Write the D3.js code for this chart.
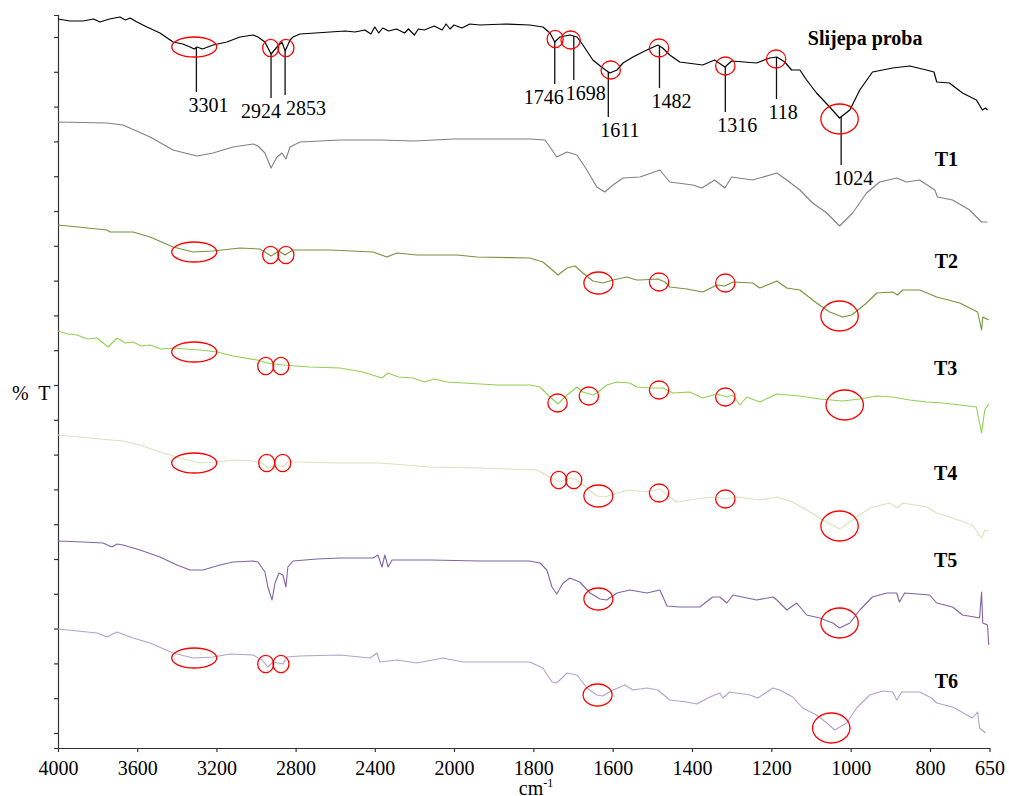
<!DOCTYPE html>
<html>
<head>
<meta charset="utf-8">
<script src="https://cdn.jsdelivr.net/npm/d3@7/dist/d3.min.js"></script>
<style>
  body { margin: 0; background: #fff; }
  text { font-family: "Liberation Serif", "Times New Roman", serif; }
</style>
</head>
<body>
<div id="chart"></div>
<script>

// spectra: [wavenumber cm-1, %T (arbitrary, stacked)]
var seriesNames = ["Slijepa proba", "T1", "T2", "T3", "T4", "T5", "T6"];

var xTickValues = [4000, 3600, 3200, 2800, 2400, 2000, 1800, 1600, 1400, 1200, 1000, 800, 650];

var slijepa = [[4000,72.9],[3940,72.7],[3874,72.7],[3820,72.9],[3788,72.6],[3740,72.9],[3687,73.1],[3660,72.8],[3636,73.0],[3601,72.6],
  [3551,72.1],[3485,71.5],[3419,70.6],[3370,70.4],[3333,70.1],[3312,69.9],[3298,70.1],[3270,69.9],[3217,70.3],[3147,70.6],
  [3081,71.1],[3015,71.3],[2990,71.1],[2955,70.6],[2924,69.4],[2894,70.1],[2869,70.6],[2853,69.7],[2828,70.8],[2813,71.1],
  [2778,71.4],[2700,71.5],[2626,71.6],[2550,71.7],[2500,71.6],[2450,71.8],[2420,71.4],[2400,72.1],[2380,71.5],[2360,72.0],
  [2330,71.7],[2290,71.9],[2250,71.5],[2230,71.9],[2200,71.3],[2180,71.9],[2150,71.8],[2100,72.2],[2060,71.8],[2040,72.4],
  [2020,71.9],[2000,72.3],[1980,72.0],[1960,72.4],[1935,72.3],[1870,72.4],[1809,72.3],[1776,72.1],[1758,71.5],[1746,70.6],
  [1733,71.1],[1708,71.3],[1690,71.1],[1675,70.3],[1650,68.8],[1625,68.0],[1607,67.5],[1589,67.8],[1574,68.5],[1549,69.1],
  [1514,69.8],[1486,70.3],[1474,70.0],[1456,69.3],[1431,68.6],[1373,68.3],[1343,68.8],[1317,68.1],[1300,68.7],[1237,68.5],
  [1204,69.0],[1186,69.1],[1166,68.6],[1149,67.8],[1128,67.8],[1111,66.8],[1086,65.5],[1053,64.1],[1028,63.0],[1002,63.8],
  [977,65.8],[945,67.6],[894,68.0],[851,68.2],[809,67.8],[790,67.6],[783,66.6],[751,66.5],[718,65.5],[683,64.8],
  [668,63.8],[660,64.0],[655,63.8]];

var t1 = [[4000,62.6],[3753,62.5],[3672,62.3],[3535,61.1],[3419,59.8],[3298,59.2],[3217,59.5],[3116,60.1],[3015,60.4],[2990,60.2],
  [2955,59.5],[2924,58.0],[2894,59.1],[2869,59.5],[2849,58.9],[2828,60.1],[2778,60.6],[2576,60.8],[2374,60.8],[2200,60.7],
  [2000,60.9],[1809,60.9],[1771,60.8],[1758,60.1],[1741,59.1],[1715,59.6],[1690,59.3],[1665,57.8],[1640,56.1],[1620,55.6],
  [1599,56.3],[1574,57.0],[1531,57.1],[1481,57.8],[1456,56.6],[1398,56.3],[1375,56.0],[1343,56.8],[1317,56.0],[1300,57.1],
  [1247,56.8],[1186,57.5],[1161,56.8],[1128,55.8],[1096,54.5],[1060,53.5],[1028,52.2],[995,53.5],[960,55.5],[927,56.6],
  [884,57.0],[859,56.6],[826,56.8],[788,55.8],[781,55.1],[743,54.8],[700,53.8],[670,52.6],[655,52.6]];

var t2 = [[4000,52.3],[3900,52.1],[3753,51.8],[3737,51.6],[3621,51.6],[3535,51.1],[3419,50.1],[3318,49.6],[3217,49.7],[3081,50.0],
  [2980,49.9],[2924,49.2],[2884,49.7],[2854,49.3],[2813,49.8],[2626,49.8],[2409,49.6],[2339,49.1],[2288,49.5],[2187,49.3],
  [1993,49.3],[1942,49.1],[1809,49.0],[1776,48.6],[1758,48.0],[1738,47.3],[1715,48.0],[1695,48.2],[1675,47.5],[1650,46.7],
  [1625,46.5],[1599,46.8],[1564,47.1],[1540,46.8],[1531,46.8],[1486,46.9],[1468,46.6],[1456,46.1],[1413,45.9],[1373,45.6],
  [1337,46.3],[1317,46.2],[1297,46.6],[1247,46.5],[1229,46.0],[1186,46.7],[1161,46.0],[1128,45.8],[1086,44.5],[1053,43.6],
  [1020,43.1],[997,43.3],[960,44.5],[934,45.5],[894,45.6],[882,45.3],[869,45.8],[826,45.8],[783,45.1],[725,44.5],
  [680,43.6],[670,41.8],[667,43.1],[652,42.8]];

var t3 = [[4000,41.7],[3950,41.4],[3904,41.3],[3850,40.9],[3803,41.0],[3747,40.1],[3702,41.0],[3660,40.5],[3621,40.6],[3580,40.2],
  [3535,40.3],[3480,39.9],[3419,40.0],[3283,39.8],[3197,39.6],[3116,39.2],[2995,38.8],[2944,38.5],[2864,38.3],[2727,38.1],
  [2576,38.0],[2460,37.6],[2364,37.0],[2333,37.5],[2280,37.1],[2207,37.0],[2150,36.6],[2100,36.9],[2035,36.6],[1892,36.3],
  [1809,36.3],[1783,36.1],[1758,35.1],[1738,34.4],[1715,35.3],[1690,36.1],[1675,35.6],[1650,35.3],[1640,35.5],[1615,36.3],
  [1589,36.6],[1557,36.5],[1539,36.1],[1506,36.0],[1474,36.0],[1448,35.5],[1406,35.6],[1373,35.0],[1337,35.4],[1312,35.1],
  [1297,35.3],[1279,34.3],[1262,35.1],[1229,34.6],[1186,35.4],[1128,35.2],[1078,34.9],[1020,34.7],[977,34.9],[934,35.2],
  [894,35.1],[851,34.8],[808,34.6],[768,34.5],[725,34.3],[683,34.1],[670,31.5],[662,33.8],[652,34.4]];

var t4 = [[4000,31.3],[3788,30.9],[3672,30.7],[3586,30.3],[3485,29.6],[3384,29.0],[3283,28.5],[3197,28.6],[3116,28.8],[3015,28.7],
  [2970,28.5],[2940,28.0],[2894,28.3],[2864,28.1],[2839,28.6],[2778,28.6],[2576,28.5],[2374,28.5],[2121,28.1],[1935,28.0],
  [1791,27.8],[1758,27.1],[1733,26.6],[1708,27.0],[1688,26.8],[1665,26.0],[1640,25.2],[1620,25.1],[1589,25.5],[1557,25.8],
  [1514,25.6],[1481,25.9],[1456,25.1],[1438,24.6],[1373,25.0],[1337,25.1],[1317,24.9],[1287,25.1],[1229,24.8],[1186,25.1],
  [1146,24.6],[1111,23.8],[1070,22.8],[1028,21.9],[995,22.8],[952,24.0],[902,24.5],[882,24.0],[869,24.5],[808,24.1],
  [783,23.5],[743,23.0],[693,22.3],[670,21.0],[662,21.8],[652,21.7]];

var t5 = [[4000,20.7],[3874,20.6],[3773,20.5],[3727,20.1],[3702,20.4],[3672,20.3],[3586,19.8],[3485,19.1],[3399,18.3],[3333,17.8],
  [3268,17.8],[3182,18.3],[3116,18.6],[3015,18.7],[2990,18.6],[2955,17.6],[2940,16.1],[2919,14.8],[2904,16.5],[2884,17.5],
  [2864,17.3],[2849,16.1],[2839,18.1],[2813,18.7],[2692,18.9],[2576,19.0],[2409,19.0],[2384,19.3],[2364,18.1],[2349,19.3],
  [2333,18.1],[2313,18.8],[2273,18.8],[2121,18.8],[1935,18.7],[1809,18.7],[1783,18.5],[1766,17.8],[1753,16.1],[1741,15.4],
  [1725,16.5],[1708,17.0],[1683,16.6],[1657,15.5],[1632,14.9],[1615,14.8],[1589,15.5],[1557,15.8],[1514,15.5],[1481,15.8],
  [1463,14.2],[1431,14.1],[1380,14.1],[1348,15.1],[1330,15.1],[1312,14.5],[1297,15.3],[1237,14.8],[1196,15.1],[1186,14.8],
  [1161,13.8],[1136,14.5],[1111,13.3],[1078,13.0],[1045,12.5],[1028,12.0],[1002,12.5],[977,13.8],[945,15.1],[909,15.5],
  [884,15.5],[877,14.6],[864,15.5],[801,15.3],[783,14.5],[743,14.1],[718,13.3],[688,13.1],[675,13.0],[670,15.6],
  [667,12.5],[655,12.3],[652,10.3]];

var t6 = [[4000,11.9],[3803,11.5],[3753,11.1],[3702,11.6],[3621,11.0],[3535,10.5],[3419,9.5],[3318,9.0],[3217,9.1],[3131,9.4],
  [3015,9.3],[2970,8.8],[2940,8.1],[2914,8.6],[2864,8.4],[2844,9.1],[2778,9.2],[2576,9.3],[2424,9.0],[2389,9.5],
  [2374,8.6],[2288,8.8],[2187,8.5],[2056,9.0],[1977,8.6],[1892,8.6],[1809,8.6],[1776,8.0],[1753,6.6],[1741,6.5],
  [1715,7.5],[1690,7.3],[1665,6.0],[1640,5.3],[1625,5.2],[1599,5.8],[1569,6.3],[1549,5.8],[1514,6.0],[1486,5.8],
  [1456,4.8],[1413,4.6],[1388,4.4],[1355,5.1],[1330,5.5],[1322,5.0],[1305,5.6],[1254,5.3],[1234,5.0],[1196,6.0],
  [1179,5.8],[1146,5.1],[1121,4.0],[1086,3.3],[1060,2.5],[1040,1.8],[1010,2.5],[985,4.0],[952,5.3],[919,5.7],
  [894,5.6],[884,4.8],[871,5.6],[826,5.6],[796,5.0],[783,4.5],[743,4.1],[693,3.0],[680,3.6],[675,2.0],[660,1.5]];

// labelled bands of the blank sample
var peakLabels = ["3301", "2924", "2853", "1746", "1698", "1611", "1482", "1316", "118", "1024"];
var peakWavenumbers = [3301, 2924, 2853, 1746, 1698, 1611, 1482, 1316, 1187, 1024];
var peakLineEnds = [65.6, 65.0, 65.3, 66.4, 66.8, 63.1, 66.0, 63.6, 64.9, 58.3];

// red rings: [wavenumber, %T, ring type]
var ringsBlank = [[3312,70.1,"broad"],[2926,70.0,"small"],[2849,70.0,"small"],[1745,70.9,"small"],[1706,70.8,"medium"],
  [1605,67.8,"medium"],[1483,70.0,"medium"],[1316,68.2,"medium"],[1188,68.9,"medium"],[1028,62.9,"large"]];
var ringsT2 = [[3312,49.6,"broad"],[2926,49.3,"small"],[2849,49.3,"small"],[1636,46.5,"amide"],[1483,46.6,"medium"],
  [1316,46.5,"medium"],[1028,43.2,"large"]];
var ringsT3 = [[3312,39.6,"broad"],[2951,38.2,"small"],[2874,38.2,"small"],[1739,34.5,"medium"],[1660,35.2,"medium"],
  [1483,35.8,"medium"],[1316,35.1,"medium"],[1015,34.3,"large"]];
var ringsT4 = [[3312,28.5,"broad"],[2946,28.5,"small"],[2865,28.5,"small"],[1736,26.8,"small"],[1698,26.8,"small"],
  [1636,25.2,"amide"],[1483,25.5,"medium"],[1316,24.9,"medium"],[1028,22.2,"large"]];
var ringsT5 = [[1636,14.9,"amide"],[1028,12.5,"large"]];
var ringsT6 = [[3312,9.0,"broad"],[2951,8.4,"small"],[2874,8.4,"small"],[1638,5.3,"amide"],[1049,2.0,"large"]];


var width = 1009,
    height = 796;

var serif = '"Liberation Serif", "Times New Roman", serif';

var series = [slijepa, t1, t2, t3, t4, t5, t6];
var colors = ["#000000", "#808080", "#77933C", "#92D050", "#D7E4BD", "#7F64A6", "#B3A2C7"];
var rings = [].concat(ringsBlank, ringsT2, ringsT3, ringsT4, ringsT5, ringsT6);
var ringSize = {
  broad: [22.5, 10],
  small: [8, 8.7],
  medium: [9.7, 9],
  amide: [14.5, 11],
  large: [18.7, 15]
};
// where each name sits: [wavenumber, %T]
var nameSpots = [[1108, 70.3], [788, 58.2], [788, 48.0], [790, 37.3], [790, 26.8], [790, 18.1], [788, 6.0]];
var labelShift = { "2924": -30, "2853": 1, "1746": -31 }; // default -8

// the spectrometer doubles the scale below 2000 cm-1
var x = d3.scaleLinear()
      .domain([4000, 2000, 650])
      .range([58, 454, 989.5]);

var y = d3.scaleLinear()
      .domain([0, 73.3])
      .range([748, 15]);

var svg = d3.select("#chart").append("svg")
      .attr("width", width)
      .attr("height", height)
      .attr("font-family", serif)
      .style("background", "#fff");

var xAxis = d3.axisBottom(x)
      .tickValues(xTickValues)
      .tickSize(4)
      .tickSizeOuter(0)
      .tickPadding(9)
      .tickFormat(d3.format("d"));

var yAxis = d3.axisLeft(y)
      .tickValues(d3.range(21).map(i => 1.5 + 3.48 * i))
      .tickSize(4)
      .tickSizeOuter(4)
      .tickFormat("");

var gx = svg.append("g")
      .attr("transform", "translate(0," + y.range()[0] + ")")
      .call(xAxis)
      .attr("font-family", serif)
      .attr("font-size", 20);

var gy = svg.append("g")
      .attr("transform", "translate(" + x.range()[0] + ",0)")
      .call(yAxis);

[gx, gy].forEach(function(g) {
  g.selectAll("path, line").attr("stroke", "#333").attr("stroke-width", 1.2);
});
gx.selectAll("text").attr("fill", "#000");

var line = d3.line()
      .x(d => x(d[0]))
      .y(d => y(d[1]));

svg.selectAll(".spectrum")
  .data(series)
  .enter()
  .append("path")
    .attr("class", "spectrum")
    .attr("fill", "none")
    .attr("stroke", (d, i) => colors[i])
    .attr("stroke-width", (d, i) => i === 0 ? 1.2 : 1.1)
    .attr("stroke-linejoin", "round")
    .attr("d", line);

// value of the blank spectrum at a given wavenumber
function blankAt(wn) {
  var i = slijepa.findIndex(d => d[0] <= wn);
  if (i <= 0) return slijepa[0][1];
  var a = slijepa[i - 1], b = slijepa[i];
  return a[1] + (b[1] - a[1]) * (a[0] - wn) / (a[0] - b[0]);
}

svg.selectAll(".leader")
  .data(peakWavenumbers)
  .enter()
  .append("line")
    .attr("class", "leader")
    .attr("x1", d => x(d))
    .attr("x2", d => x(d))
    .attr("y1", d => y(blankAt(d)))
    .attr("y2", (d, i) => y(peakLineEnds[i]))
    .attr("stroke", "#111")
    .attr("stroke-width", 1.3);

svg.selectAll(".peak")
  .data(peakLabels)
  .enter()
  .append("text")
    .attr("class", "peak")
    .attr("x", (d, i) => x(peakWavenumbers[i]) + (labelShift[d] !== undefined ? labelShift[d] : -8))
    .attr("y", (d, i) => y(peakLineEnds[i]) + 20)
    .style("font-size", "20px")
    .text(d => d);

svg.selectAll(".ring")
  .data(rings)
  .enter()
  .append("ellipse")
    .attr("class", "ring")
    .attr("cx", d => x(d[0]))
    .attr("cy", d => y(d[1]))
    .attr("rx", d => ringSize[d[2]][0])
    .attr("ry", d => ringSize[d[2]][1])
    .attr("fill", "none")
    .attr("stroke", "#FF0000")
    .attr("stroke-width", 1.3);

svg.selectAll(".name")
  .data(seriesNames)
  .enter()
  .append("text")
    .attr("class", "name")
    .attr("x", (d, i) => x(nameSpots[i][0]))
    .attr("y", (d, i) => y(nameSpots[i][1]))
    .style("font-size", "20px")
    .style("font-weight", "bold")
    .text(d => d);

svg.append("text")
  .attr("x", 12)
  .attr("y", 400)
  .style("font-size", "20px")
  .style("white-space", "pre")
  .text("%  T");

var unit = svg.append("text")
  .attr("x", 536)
  .attr("y", 795)
  .attr("text-anchor", "middle")
  .style("font-size", "20px");
unit.append("tspan").text("cm");
unit.append("tspan")
  .attr("dy", -8)
  .style("font-size", "12px")
  .text("-1");

</script>
</body>
</html>
